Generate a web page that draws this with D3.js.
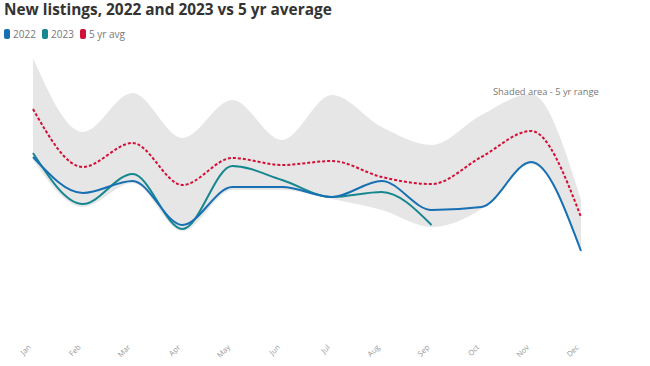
<!DOCTYPE html>
<html>
<head>
<meta charset="utf-8">
<script src="https://cdn.jsdelivr.net/npm/d3@7"></script>
<style>
  body { margin: 0; background: #fff; font-family: "Open Sans", sans-serif; }
</style>
</head>
<body>
<div class="canvas"></div>
<script>
const months = ['Jan','Feb','Mar','Apr','May','Jun','Jul','Aug','Sep','Oct','Nov','Dec'];
const listings2022 = [183,147,159,115,153,153,143,159,130,133,178,89];
const listings2023 = [187,136,166,111,174,160,143,148,115];
const avg5yr = [231,173,197,155,182,175,179,163,156,183,209,123];
const rangeHigh = [282,208,247,202,240,200,245,213,195,225,246,140];
const rangeLow = [180,133,157,109,150,150,141,130,113,131,176,88];

const width = 650, height = 366;

const svg = d3.select('.canvas')
  .append('svg')
  .attr('width', width)
  .attr('height', height);

// scales
const x = d3.scalePoint()
  .domain(months)
  .range([33, 581]);
const y = d3.scaleLinear()
  .domain([0, 300])
  .range([340, 40]);

// title + legend
svg.append('text')
  .attr('x', 4).attr('y', 15)
  .attr('font-size', '15.4px')
  .attr('font-weight', 700)
  .attr('fill', '#333')
  .text('New listings, 2022 and 2023 vs 5 yr average');

const legend = [
  {name: '2022', color: '#1670b3', x: 4},
  {name: '2023', color: '#16878f', x: 42},
  {name: '5 yr avg', color: '#d20f37', x: 80}
];
const lg = svg.selectAll('.legend')
  .data(legend)
  .enter().append('g')
  .attr('transform', d => `translate(${d.x},29)`);
lg.append('rect')
  .attr('width', 6).attr('height', 10)
  .attr('rx', 2)
  .attr('fill', d => d.color);
lg.append('text')
  .attr('x', 9).attr('y', 9)
  .attr('font-size', '10px')
  .attr('fill', '#777')
  .text(d => d.name);

const curve = d3.curveMonotoneX;

// shaded 5 yr range
const area = d3.area()
  .x((d, i) => x(months[i]))
  .y0((d, i) => y(rangeLow[i]))
  .y1(d => y(d))
  .curve(curve);

svg.append('path')
  .datum(rangeHigh)
  .attr('d', area)
  .attr('fill', '#e6e6e6');

svg.append('text')
  .attr('x', 493).attr('y', 95)
  .attr('font-size', '9.3px')
  .attr('fill', '#777')
  .text('Shaded area - 5 yr range');

const line = d3.line()
  .x((d, i) => x(months[i]))
  .y(d => y(d))
  .curve(curve);

svg.append('path')
  .datum(avg5yr)
  .attr('d', line)
  .attr('fill', 'none')
  .attr('stroke', '#d20f37')
  .attr('stroke-width', 2)
  .attr('stroke-dasharray', '3,2');

svg.append('path')
  .datum(listings2023)
  .attr('d', line)
  .attr('fill', 'none')
  .attr('stroke', '#16878f')
  .attr('stroke-width', 2);

svg.append('path')
  .datum(listings2022)
  .attr('d', line)
  .attr('fill', 'none')
  .attr('stroke', '#1670b3')
  .attr('stroke-width', 2);

// x axis labels
const xAxis = d3.axisBottom(x).tickSize(0).tickPadding(0);
const xAxisGroup = svg.append('g')
  .attr('transform', 'translate(0,339)')
  .call(xAxis);
xAxisGroup.select('.domain').remove();
xAxisGroup.selectAll('text')
  .attr('transform', 'translate(-4,7) rotate(-45)')
  .attr('text-anchor', 'end')
  .attr('dy', '0.35em')
  .attr('font-family', '"Open Sans", sans-serif')
  .attr('font-size', '7.5px')
  .attr('fill', '#999');
</script>
</body>
</html>
